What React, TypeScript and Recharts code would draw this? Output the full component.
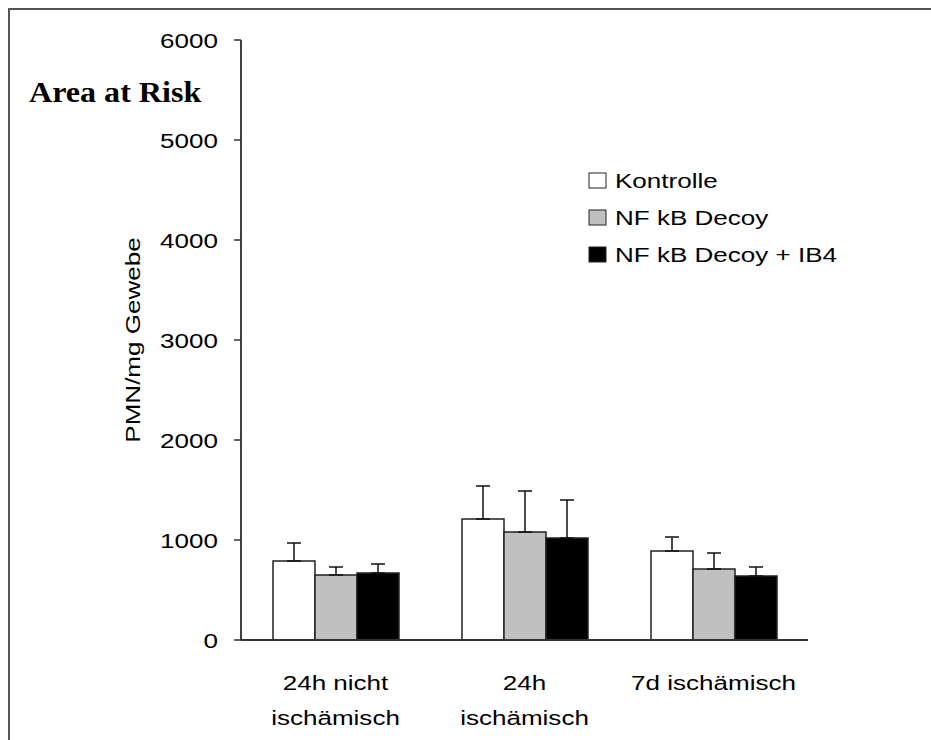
import { BarChart, Bar, XAxis, YAxis, ErrorBar, Legend } from "recharts";

// PMN counts per mg tissue, area at risk
const groups = ["24h nicht\nischämisch", "24h\nischämisch", "7d ischämisch"];
const kontrolle = [790, 1210, 890];
const kontrolleErr = [180, 330, 140];
const decoy = [650, 1080, 710];
const decoyErr = [80, 410, 160];
const decoyIb4 = [670, 1020, 640];
const decoyIb4Err = [90, 380, 90];

const seriesNames = ["Kontrolle", "NF kB Decoy", "NF kB Decoy + IB4"];
const seriesFills = ["#ffffff", "#c0c0c0", "#000000"];
const yTicks = [0, 1000, 2000, 3000, 4000, 5000, 6000];
const groupEdges = [0, 1, 2, 3];

const FONT = "'Liberation Sans', Arial, sans-serif";
const STRETCH = 1.24; // the labels use a wide sans face
const INK = "#222";

const data = groups.map((group, i) => ({
  group,
  kontrolle: kontrolle[i],
  kontrolleErr: [0, kontrolleErr[i]],
  decoy: decoy[i],
  decoyErr: [0, decoyErr[i]],
  decoyIb4: decoyIb4[i],
  decoyIb4Err: [0, decoyIb4Err[i]],
}));

function GroupTick({ x, y, payload }: any) {
  const lines = String(payload.value).split("\n");
  return (
    <g>
      {lines.map((line, i) => (
        <text
          key={i}
          transform={`translate(${x},${y + 50 + i * 35}) scale(${STRETCH},1)`}
          textAnchor="middle"
          fontFamily={FONT}
          fontSize={21}
          fill="#000"
        >
          {line}
        </text>
      ))}
    </g>
  );
}

function ValueTick({ x, y, payload }: any) {
  return (
    <text
      transform={`translate(${x},${y + 7.5}) scale(${STRETCH},1)`}
      textAnchor="end"
      fontFamily={FONT}
      fontSize={21}
      fill="#000"
    >
      {payload.value}
    </text>
  );
}

function YTitle({ viewBox }: any) {
  const cy = viewBox.y + viewBox.height / 2;
  return (
    <text
      transform={`translate(${viewBox.x - 21},${cy}) rotate(-90) scale(${STRETCH},1)`}
      textAnchor="middle"
      fontFamily={FONT}
      fontSize={21}
      fill="#000"
    >
      PMN/mg Gewebe
    </text>
  );
}

function LegendBox() {
  return (
    <svg width={300} height={110} style={{ display: "block" }}>
      {seriesNames.map((name, i) => {
        const base = 18 + i * 37;
        return (
          <g key={name}>
            <rect
              x={1}
              y={base - 15}
              width={17}
              height={15}
              fill={seriesFills[i]}
              stroke={INK}
              strokeWidth={1}
            />
            <text
              transform={`translate(27,${base}) scale(${STRETCH},1)`}
              fontFamily={FONT}
              fontSize={21}
              fill="#000"
            >
              {name}
            </text>
          </g>
        );
      })}
    </svg>
  );
}

export default function App() {
  return (
    <div
      style={{
        position: "absolute",
        left: 8,
        top: 8,
        width: 923,
        height: 732,
        boxSizing: "border-box",
        borderTop: "2px solid #555",
        borderLeft: "2px solid #555",
        background: "#fff",
      }}
    >
      <svg
        width={260}
        height={120}
        style={{ position: "absolute", left: 0, top: 0 }}
      >
        <text
          transform={`translate(19,92) scale(1.07,1)`}
          fontFamily="'Liberation Serif', 'Times New Roman', serif"
          fontWeight="bold"
          fontSize={30}
          fill="#000"
        >
          Area at Risk
        </text>
      </svg>
      <BarChart
        width={900}
        height={720}
        data={data}
        barSize={42}
        barGap={0}
        margin={{ top: 30, right: 102, bottom: 30, left: 151 }}
      >
        <XAxis
          dataKey="group"
          height={60}
          tickSize={0}
          tickMargin={0}
          tickLine={false}
          interval={0}
          axisLine={{ stroke: "#333", strokeWidth: 2 }}
          tick={<GroupTick />}
        />
        <XAxis
          xAxisId="edges"
          type="number"
          domain={[0, 3]}
          ticks={groupEdges}
          allowDataOverflow
          height={0}
          axisLine={false}
          tickSize={7}
          tickLine={{ stroke: "#333", strokeWidth: 1.5 }}
          tick={() => <g />}
        />
        <YAxis
          width={80}
          domain={[0, 6000]}
          ticks={yTicks}
          interval={0}
          tickSize={7}
          tickMargin={16}
          axisLine={{ stroke: "#000", strokeWidth: 1.5 }}
          tickLine={{ stroke: "#333", strokeWidth: 1.5 }}
          tick={<ValueTick />}
          label={<YTitle />}
        />
        <Legend
          layout="horizontal"
          verticalAlign="middle"
          align="center"
          content={<LegendBox />}
          wrapperStyle={{ position: "absolute", left: 578, top: 160, width: 300 }}
        />
        <Bar dataKey="kontrolle" name={seriesNames[0]} fill={seriesFills[0]} stroke={INK} strokeWidth={1.5} isAnimationActive={false}>
          <ErrorBar dataKey="kontrolleErr" width={7} stroke="#111" strokeWidth={1.5} isAnimationActive={false} />
        </Bar>
        <Bar dataKey="decoy" name={seriesNames[1]} fill={seriesFills[1]} stroke={INK} strokeWidth={1.5} isAnimationActive={false}>
          <ErrorBar dataKey="decoyErr" width={7} stroke="#111" strokeWidth={1.5} isAnimationActive={false} />
        </Bar>
        <Bar dataKey="decoyIb4" name={seriesNames[2]} fill={seriesFills[2]} stroke={INK} strokeWidth={1.5} isAnimationActive={false}>
          <ErrorBar dataKey="decoyIb4Err" width={7} stroke="#111" strokeWidth={1.5} isAnimationActive={false} />
        </Bar>
      </BarChart>
    </div>
  );
}
